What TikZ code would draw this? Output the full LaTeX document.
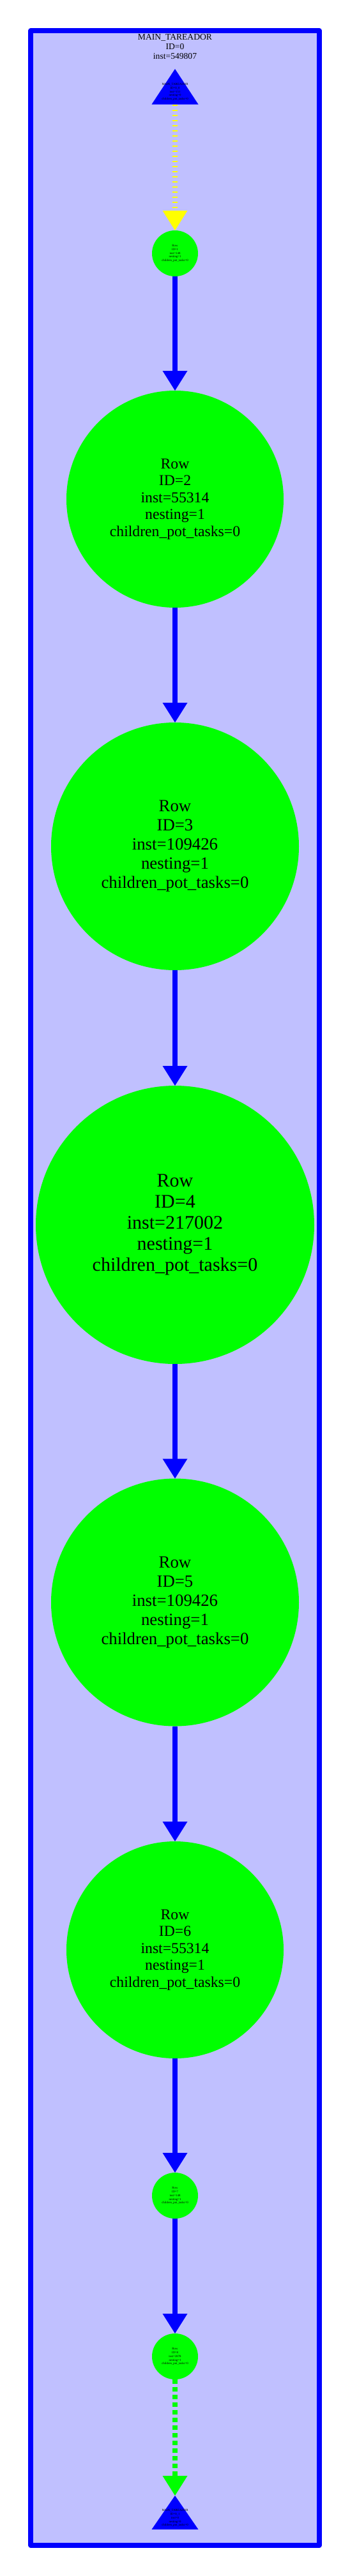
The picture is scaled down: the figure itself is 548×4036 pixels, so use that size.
\documentclass[tikz,border=0pt]{standalone}
\usepackage{fontspec}
\setmainfont{Liberation Serif}
\usetikzlibrary{arrows.meta}
\definecolor{lav}{RGB}{192,192,255}
\definecolor{gblue}{RGB}{0,0,255}
\definecolor{ggreen}{RGB}{0,255,0}
\definecolor{gyellow}{RGB}{255,255,0}
\tikzset{
  rownode/.style={circle,fill=ggreen,draw=none,inner sep=0pt,outer sep=0pt,align=center,text=black},
  tinyrow/.style={rownode,minimum size=72pt,font=\fontsize{4.8}{5.9}\selectfont},
  tinytext/.style={align=center,inner sep=0pt,font=\fontsize{4.8}{5.9}\selectfont},
  bigtip/.tip={Triangle[length=31pt,width=39pt,line width=0pt]},
  edgesolid/.style={draw=gblue,line width=7.5pt,-bigtip},
  edgeyellow/.style={draw=gyellow,line width=7.5pt,dash pattern=on 2pt off 6pt,-bigtip},
  edgegreen/.style={draw=ggreen,line width=7.5pt,dash pattern=on 6.5pt off 5.5pt,-bigtip},
  tri/.style={fill=gblue},
}
\begin{document}
\begin{tikzpicture}[x=1pt,y=-1pt]
\useasboundingbox (0,0) rectangle (548,4036);
% cluster frame
\draw[draw=gblue,fill=lav,line width=7.3pt,line join=round] (48,48) rectangle (500,3988);
\node[align=center,inner sep=0pt,font=\fontsize{13.6}{15.2}\selectfont] (title) at (274,73) {MAIN\_TAREADOR\\ID=0\\inst=549807};
% start triangle
\fill[tri] (274,108) -- (310.5,163.5) -- (237.5,163.5) -- cycle;
\coordinate (t0) at (274,163.5);
\node[tinytext] (t0lab) at (274,144) {MAIN\_TAREADOR\\ID=0\_0\\inst=151\\nesting=0\\children\_pot\_tasks=0};
% row nodes
\node[tinyrow] (r1) at (274,397) {Row\\ID=1\\inst=148\\nesting=1\\children\_pot\_tasks=0};
\node[rownode,minimum size=340pt,font=\fontsize{23.7}{26.5}\selectfont] (r2) at (274,782) {Row\\ID=2\\inst=55314\\nesting=1\\children\_pot\_tasks=0};
\node[rownode,minimum size=388pt,font=\fontsize{26.8}{30}\selectfont] (r3) at (274,1326) {Row\\ID=3\\inst=109426\\nesting=1\\children\_pot\_tasks=0};
\node[rownode,minimum size=436pt,font=\fontsize{30}{33}\selectfont] (r4) at (274,1919) {Row\\ID=4\\inst=217002\\nesting=1\\children\_pot\_tasks=0};
\node[rownode,minimum size=388pt,font=\fontsize{26.8}{30}\selectfont] (r5) at (274,2510.5) {Row\\ID=5\\inst=109426\\nesting=1\\children\_pot\_tasks=0};
\node[rownode,minimum size=340pt,font=\fontsize{23.7}{26.5}\selectfont] (r6) at (274,3055) {Row\\ID=6\\inst=55314\\nesting=1\\children\_pot\_tasks=0};
\node[tinyrow] (r7) at (274,3440) {Row\\ID=7\\inst=148\\nesting=1\\children\_pot\_tasks=0};
\node[tinyrow] (r8) at (274,3692) {Row\\ID=8\\inst=2878\\nesting=1\\children\_pot\_tasks=0};
% end triangle
\fill[tri] (274,3910) -- (310.5,3963) -- (237.5,3963) -- cycle;
\coordinate (t1) at (274,3910);
\node[tinytext] (t1lab) at (274,3945) {MAIN\_TAREADOR\\ID=0\_1\\inst=0\\nesting=0\\children\_pot\_tasks=0};
% edges
\draw[edgeyellow] (t0) -- (r1);
\draw[edgesolid] (r1) -- (r2);
\draw[edgesolid] (r2) -- (r3);
\draw[edgesolid] (r3) -- (r4);
\draw[edgesolid] (r4) -- (r5);
\draw[edgesolid] (r5) -- (r6);
\draw[edgesolid] (r6) -- (r7);
\draw[edgesolid] (r7) -- (r8);
\draw[edgegreen] (r8) -- (t1);
\end{tikzpicture}
\end{document}
